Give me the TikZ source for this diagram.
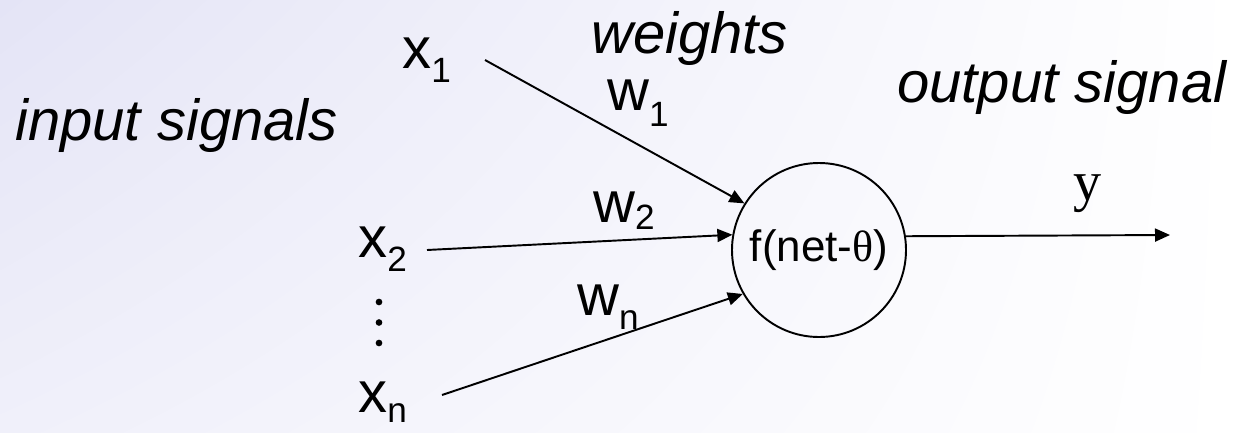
\documentclass[tikz,border=0pt]{standalone}
\usepackage{fontspec}
\setmainfont{Liberation Sans}
\newfontfamily\timesface{Liberation Serif}
\usetikzlibrary{arrows.meta,positioning,shadings}
\definecolor{ink}{HTML}{000000}
\definecolor{paper}{HTML}{FFFFFF}
\definecolor{lavtop}{HTML}{E4E4F6}
\definecolor{lavlow}{HTML}{F0F0FA}
\newcommand{\bigfont}{\fontsize{33}{40}\selectfont}
\newcommand{\lowsub}[2][8.5pt]{\raisebox{-#1}{\fontsize{20}{20}\selectfont #2}}
\tikzset{
  sigarr/.style={-{Triangle[length=3mm,width=2.6mm]},line width=1.1pt,color=ink},
  neuron/.style={draw=ink,circle,line width=1.1pt,minimum size=3.48cm,inner sep=0pt,font=\fontsize{25}{30}\selectfont},
  biglabel/.style={inner sep=0pt,anchor=base west,font=\bigfont},
  itlabel/.style={inner sep=0pt,anchor=base west,font=\bigfont\itshape}
}

\begin{document}
\begin{tikzpicture}[x=0.2mm,y=-0.2mm,>=Latex]
  \useasboundingbox (0,0) rectangle (1237,432);
  \shade[upper left=lavtop,upper right=paper,lower left=lavlow,lower right=paper] (0,0) rectangle (1237,432);

  % captions
  \node[itlabel] (insig) at (15,140) {input signals};
  \node[itlabel] (wcap) at (591,53) {weights};
  \node[itlabel] (outsig) at (897,102) {output signal};

  % inputs
  \node[biglabel] (x1) at (402,68) {x\lowsub{1}};
  \node[biglabel] (x2) at (358,257) {x\lowsub{2}};
  \node[biglabel] (xn) at (358,412) {x\lowsub[6pt]{n}};
  \coordinate (dots) at (379,302);
  \foreach \k in {0,1,2} \fill[ink] (dots) ++(0,\k*20.5) circle (1.9pt);

  % weights
  \node[biglabel] (w1) at (607,110) {w\lowsub[9.5pt]{1}};
  \node[biglabel] (w2) at (593,222) {w\lowsub[4.5pt]{2}};
  \node[biglabel] (wn) at (577,315) {w\lowsub{n}};

  \node[neuron] (neuron) at (819,250) {f(net-{\timesface θ})};
  \node[inner sep=0pt,anchor=base west,font=\timesface\fontsize{32}{38}\selectfont] (yout) at (1073,200) {y};

  \coordinate (t1) at (485,60);
  \coordinate (t2) at (427,250);
  \coordinate (tn) at (442,395);
  \coordinate (yend) at (1170,235);
  \draw[sigarr] (t1) -- (neuron.148.7);
  \draw[sigarr] (t2) -- (neuron.170.7);
  \draw[sigarr] (tn) -- (neuron.210);
  \draw[sigarr] (neuron.9.9) -- (yend);
\end{tikzpicture}
\end{document}
